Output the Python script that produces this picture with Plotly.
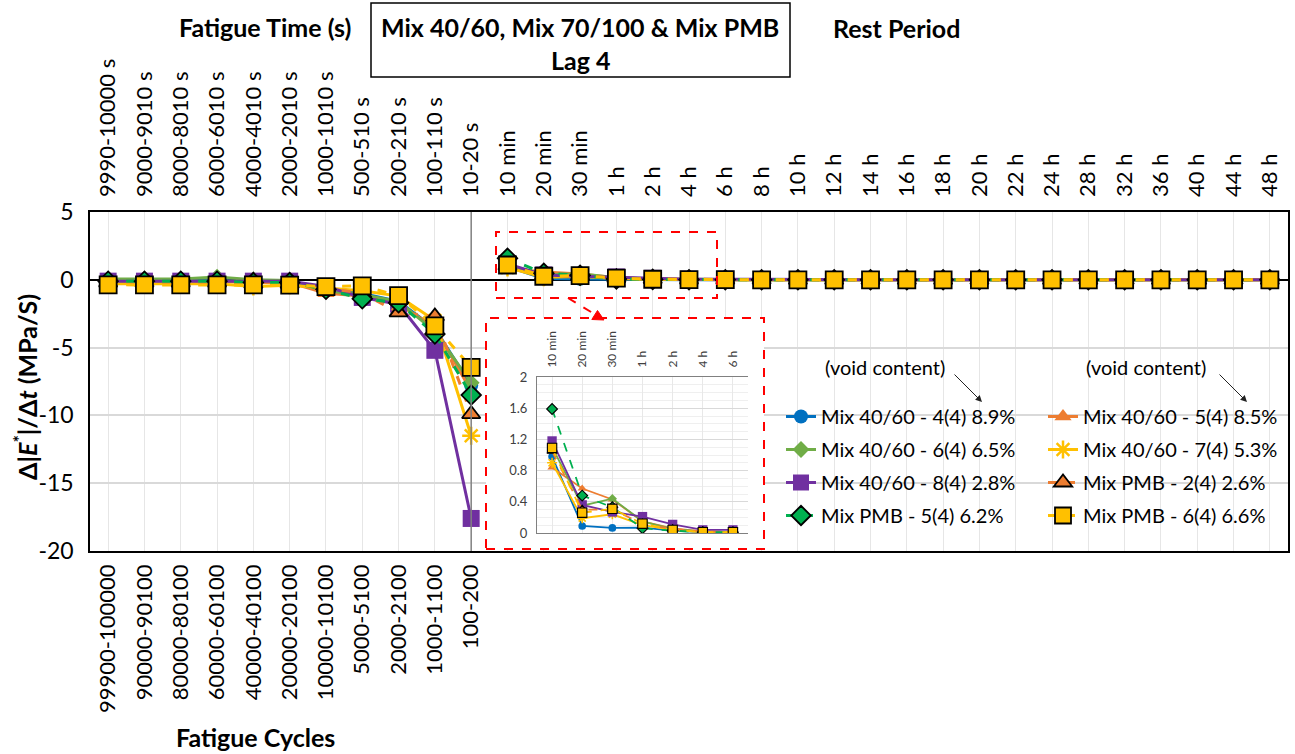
import plotly.graph_objects as go

# ---------------- data ----------------
fatigue_time = ["9990-10000 s", "9000-9010 s", "8000-8010 s", "6000-6010 s", "4000-4010 s",
                "2000-2010 s", "1000-1010 s", "500-510 s", "200-210 s", "100-110 s", "10-20 s"]
fatigue_cycles = ["99900-100000", "90000-90100", "80000-80100", "60000-60100", "40000-40100",
                  "20000-20100", "10000-10100", "5000-5100", "2000-2100", "1000-1100", "100-200"]
rest_period = ["10 min", "20 min", "30 min", "1 h", "2 h", "4 h", "6 h", "8 h", "10 h", "12 h",
               "14 h", "16 h", "18 h", "20 h", "22 h", "24 h", "28 h", "32 h", "36 h", "40 h",
               "44 h", "48 h"]
inset_labels = ["10 min", "20 min", "30 min", "1 h", "2 h", "4 h", "6 h"]

series_names = ["Mix 40/60 - 4(4) 8.9%", "Mix 40/60 - 5(4) 8.5%", "Mix 40/60 - 6(4) 6.5%",
                "Mix 40/60 - 7(4) 5.3%", "Mix 40/60 - 8(4) 2.8%", "Mix PMB - 2(4) 2.6%",
                "Mix PMB - 5(4) 6.2%", "Mix PMB - 6(4) 6.6%"]

# fatigue part (11 points)
fat_m4 = [-0.10, -0.10, -0.10, -0.05, -0.15, -0.10, -0.60, -1.00, -1.60, -3.60, -7.80]
fat_m5 = [-0.10, -0.10, -0.10, -0.10, -0.20, -0.20, -1.00, -1.20, -1.80, -3.50, -8.20]
fat_m6 = [0.05, 0.05, 0.05, 0.20, 0.00, -0.05, -0.80, -1.10, -1.60, -3.80, -7.60]
fat_m7 = [-0.30, -0.30, -0.30, -0.30, -0.50, -0.40, -0.60, -0.80, -1.20, -3.00, -11.50]
fat_m8 = [-0.10, -0.10, -0.10, -0.10, -0.10, -0.10, -0.50, -1.30, -1.80, -5.20, -17.60]
fat_p2 = [-0.20, -0.20, -0.20, -0.20, -0.30, -0.30, -0.60, -1.00, -2.40, -2.70, -9.90]
fat_p5 = [-0.10, -0.10, -0.10, -0.10, -0.20, -0.20, -0.70, -1.40, -1.70, -4.00, -8.50]
fat_p6 = [-0.37, -0.37, -0.37, -0.37, -0.37, -0.40, -0.50, -0.45, -1.17, -3.40, -6.46]

# rest part (22 points)
rest_m4 = [0.98, 0.09, 0.065, 0.07, 0.03, 0.01, 0.01, 0.01, 0.00, 0.00, 0.00, 0.00, 0.00,
           0.00, 0.00, 0.00, 0.00, 0.00, 0.00, 0.00, 0.00, 0.00]
rest_m5 = [0.84, 0.57, 0.43, 0.15, 0.06, 0.02, 0.01, 0.01, 0.01, 0.00, 0.00, 0.00, 0.00,
           0.00, 0.00, 0.00, 0.00, 0.00, 0.00, 0.00, 0.00, 0.00]
rest_m6 = [1.10, 0.35, 0.44, 0.15, 0.05, 0.02, 0.01, 0.01, 0.00, 0.00, 0.00, 0.00, 0.00,
           0.00, 0.00, 0.00, 0.00, 0.00, 0.00, 0.00, 0.00, 0.00]
rest_m7 = [0.90, 0.19, 0.24, 0.10, 0.04, 0.01, 0.01, 0.00, 0.00, 0.00, 0.00, 0.00, 0.00,
           0.00, 0.00, 0.00, 0.00, 0.00, 0.00, 0.00, 0.00, 0.00]
rest_m8 = [1.18, 0.36, 0.27, 0.21, 0.11, 0.04, 0.04, 0.02, 0.01, 0.01, 0.01, 0.01, 0.00,
           0.00, 0.00, 0.00, 0.00, 0.00, 0.00, 0.00, 0.00, 0.00]
rest_p2 = [1.05, 0.30, 0.30, 0.12, 0.05, 0.02, 0.01, 0.01, 0.00, 0.00, 0.00, 0.00, 0.00,
           0.00, 0.00, 0.00, 0.00, 0.00, 0.00, 0.00, 0.00, 0.00]
rest_p5 = [1.59, 0.48, 0.33, 0.06, 0.03, 0.01, 0.01, 0.00, 0.00, 0.00, 0.00, 0.00, 0.00,
           0.00, 0.00, 0.00, 0.00, 0.00, 0.00, 0.00, 0.00, 0.00]
rest_p6 = [1.09, 0.26, 0.31, 0.12, 0.04, 0.01, 0.01, 0.00, 0.00, 0.00, 0.00, 0.00, 0.00,
           0.00, 0.00, 0.00, 0.00, 0.00, 0.00, 0.00, 0.00, 0.00]

y_ticks = [-20, -15, -10, -5, 0, 5]
inset_y_ticks = [0, 0.4, 0.8, 1.2, 1.6, 2]

# ---------------- styling ----------------
FONT = "Lato"
BLUE, ORANGE, LGREEN, YELLOW, PURPLE, DGREEN = "#0070C0", "#ED7D31", "#70AD47", "#FFC000", "#7030A0", "#00B050"

styles = [
    dict(color=BLUE, symbol="circle", size=14, dash="solid", outline=None),
    dict(color=ORANGE, symbol="triangle-up", size=15, dash="solid", outline=None),
    dict(color=LGREEN, symbol="diamond", size=13, dash="solid", outline=None),
    dict(color=YELLOW, symbol="asterisk-open", size=15, dash="solid", outline=None),
    dict(color=PURPLE, symbol="square", size=17, dash="solid", outline=None),
    dict(color=ORANGE, symbol="triangle-up", size=16, dash="dash", outline="black"),
    dict(color=DGREEN, symbol="diamond", size=15, dash="dash", outline="black"),
    dict(color=YELLOW, symbol="square", size=17, dash="dash", outline="black"),
]
fat_data = [fat_m4, fat_m5, fat_m6, fat_m7, fat_m8, fat_p2, fat_p5, fat_p6]
rest_data = [rest_m4, rest_m5, rest_m6, rest_m7, rest_m8, rest_p2, rest_p5, rest_p6]
legend_ids = ["legend", "legend2", "legend", "legend2", "legend", "legend2", "legend", "legend2"]

# pixel helpers for layout (plot area: x 90..1288, y 212..551)
PX0, PX1, PY0, PY1 = 90, 1288, 212, 551
def px(x):
    return (x - PX0) / (PX1 - PX0)
def py(y):
    return (PY1 - y) / (PY1 - PY0)

n_fat = len(fatigue_time)
n_all = n_fat + len(rest_period)
fat_pos = list(range(n_fat))
rest_pos = list(range(n_fat, n_all))

fig = go.Figure()

# cover subplot (white background behind inset) - x3/y3
fig.add_trace(go.Scatter(x=[0], y=[0], xaxis="x3", yaxis="y3", mode="markers",
                         marker=dict(opacity=0), showlegend=False, hoverinfo="skip"))
# top axis dummy
fig.add_trace(go.Scatter(x=[0], y=[0], xaxis="x2", yaxis="y", mode="markers",
                         marker=dict(opacity=0), showlegend=False, hoverinfo="skip"))

def marker_dict(st, scale=1.0):
    size = st["size"] * scale
    if st["symbol"].startswith("asterisk"):
        return dict(symbol=st["symbol"], size=size, color=st["color"],
                    line=dict(color=st["color"], width=2 * scale + 0.5))
    if st["outline"]:
        return dict(symbol=st["symbol"], size=size, color=st["color"],
                    line=dict(color=st["outline"], width=1.5 * scale + 0.3))
    return dict(symbol=st["symbol"], size=size, color=st["color"], line=dict(width=0))

for i in range(8):
    st = styles[i]
    xs = fat_pos + [None] + rest_pos
    ys = fat_data[i] + [None] + rest_data[i]
    fig.add_trace(go.Scatter(
        x=xs, y=ys, mode="lines+markers", name=series_names[i],
        line=dict(color=st["color"], width=3, dash=st["dash"]),
        marker=marker_dict(st), legend=legend_ids[i], legendgroup="g%d" % i,
        connectgaps=False,
    ))

# inset traces - x4/y4
for i in range(8):
    st = styles[i]
    fig.add_trace(go.Scatter(
        x=list(range(len(inset_labels))), y=rest_data[i][:len(inset_labels)],
        xaxis="x4", yaxis="y4", mode="lines+markers", showlegend=False,
        line=dict(color=st["color"], width=1.8, dash=st["dash"]),
        marker=marker_dict(st, 0.55),
    ))

tick_font = dict(family=FONT, size=22, color="black")

fig.update_layout(
    width=1295, height=754,
    margin=dict(l=PX0, r=1295 - PX1, t=PY0, b=754 - PY1, autoexpand=False),
    paper_bgcolor="white", plot_bgcolor="white",
    font=dict(family=FONT, color="black"),
    xaxis=dict(range=[-0.5, n_all - 0.5], tickmode="array", tickvals=list(range(n_all)),
               ticktext=fatigue_cycles + [""] * len(rest_period), tickangle=-90,
               tickfont=tick_font, showgrid=True, gridcolor="#e6e6e6", gridwidth=1,
               showline=True, linecolor="black", linewidth=1.5, mirror=True,
               zeroline=False, ticks="", automargin=False, ticklabelstandoff=3),
    xaxis2=dict(overlaying="x", side="top", anchor="y", range=[-0.5, n_all - 0.5],
                tickmode="array", tickvals=list(range(n_all)),
                ticktext=fatigue_time + rest_period, tickangle=-90, tickfont=tick_font,
                showgrid=False, zeroline=False, ticks="", showline=False,
                automargin=False, ticklabelstandoff=14),
    yaxis=dict(range=[-20, 5], tickmode="array", tickvals=y_ticks,
               ticktext=[str(v) for v in y_ticks], tickfont=dict(family=FONT, size=23, color="black"),
               showgrid=True, gridcolor="#d9d9d9", gridwidth=1.5,
               zeroline=True, zerolinecolor="black", zerolinewidth=1.5,
               showline=True, linecolor="black", linewidth=1.5, mirror=True, ticks="",
               automargin=False, ticklabelstandoff=10),
    xaxis3=dict(domain=[px(486), px(764)], anchor="y3", range=[0, 1], visible=False,
                automargin=False),
    yaxis3=dict(domain=[py(549), py(318)], anchor="x3", range=[0, 1], visible=False,
                automargin=False),
    xaxis4=dict(domain=[px(537), px(748)], anchor="y4", side="top",
                range=[-0.5, len(inset_labels) - 0.5], tickmode="array",
                tickvals=list(range(len(inset_labels))), ticktext=inset_labels,
                tickangle=-90, tickfont=dict(family=FONT, size=12, color="#404040"),
                showgrid=True, gridcolor="#e8e8e8", showline=True, linecolor="#808080",
                linewidth=1, mirror=True, zeroline=False, ticks="", automargin=False,
                ticklabelstandoff=6),
    yaxis4=dict(domain=[py(533), py(377)], anchor="x4", range=[0, 2], tickmode="array",
                tickvals=inset_y_ticks, ticktext=["0", "0.4", "0.8", "1.2", "1.6", "2"],
                tickfont=dict(family=FONT, size=13, color="#404040"),
                showgrid=True, gridcolor="#d9d9d9",
                minor=dict(dtick=0.1, showgrid=True, gridcolor="#efefef"),
                showline=True, linecolor="#808080", linewidth=1, zeroline=False, ticks="",
                automargin=False, ticklabelstandoff=6),
    legend=dict(x=px(781), y=py(397), xanchor="left", yanchor="top", orientation="v",
                bgcolor="rgba(0,0,0,0)", font=dict(family=FONT, size=20, color="black"),
                tracegroupgap=4, itemwidth=30),
    legend2=dict(x=px(1043), y=py(397), xanchor="left", yanchor="top", orientation="v",
                 bgcolor="rgba(0,0,0,0)", font=dict(family=FONT, size=20, color="black"),
                 tracegroupgap=4, itemwidth=30),
    showlegend=True,
)

shapes = [
    # divider between fatigue and rest
    dict(type="line", xref="x", yref="paper", x0=n_fat - 1, x1=n_fat - 1, y0=0, y1=1,
         line=dict(color="#808080", width=1.5), layer="above"),
    # title box
    dict(type="rect", xref="paper", yref="paper", x0=px(371), x1=px(790), y0=py(77), y1=py(3),
         line=dict(color="black", width=1.5)),
    # red dashed boxes
    dict(type="rect", xref="paper", yref="paper", x0=px(496), x1=px(717), y0=py(298), y1=py(232),
         line=dict(color="#ff0000", width=2, dash="dash"), layer="above"),
    dict(type="rect", xref="paper", yref="paper", x0=px(486), x1=px(764), y0=py(549), y1=py(318),
         line=dict(color="#ff0000", width=2, dash="dash"), layer="above"),
    # red dashed arrow
    dict(type="line", xref="paper", yref="paper", x0=px(568), y0=py(298), x1=px(596), y1=py(315),
         line=dict(color="#ff0000", width=2, dash="dash"), layer="above"),
    dict(type="path", xref="paper", yref="paper",
         path="M %f,%f L %f,%f L %f,%f Z" % (px(604), py(320), px(591.8), py(319.5), px(597.5), py(310.5)),
         fillcolor="#ff0000", line=dict(color="#ff0000", width=1), layer="above"),
]
fig.update_layout(shapes=shapes)

ann = [
    dict(text="<b>Fatigue Time (s)</b>", x=px(265), y=py(27), font=dict(size=25)),
    dict(text="<b>Mix 40/60, Mix 70/100 &amp; Mix PMB</b>", x=px(580), y=py(27), font=dict(size=25)),
    dict(text="<b>Lag 4</b>", x=px(580), y=py(60), font=dict(size=25)),
    dict(text="<b>Rest Period</b>", x=px(896), y=py(28), font=dict(size=25)),
    dict(text="<b>Fatigue Cycles</b>", x=px(255), y=py(737), font=dict(size=25)),
    dict(text="<b>Δ|<i>E</i><sup>*</sup>|/Δ<i>t</i> (MPa/S)</b>", x=px(25), y=py(387),
         textangle=-90, font=dict(size=25)),
    dict(text="(void content)", x=px(885), y=py(367), font=dict(size=20)),
    dict(text="(void content)", x=px(1146), y=py(367), font=dict(size=20)),
]
for a in ann:
    a.update(xref="paper", yref="paper", showarrow=False, xanchor="center", yanchor="middle")
    a["font"] = dict(family=FONT, color="black", **a["font"])
arrows = [
    dict(x=px(982), y=py(402), ax=-29, ay=-29),
    dict(x=px(1247), y=py(402), ax=-29, ay=-29),
]
for a in arrows:
    a.update(xref="paper", yref="paper", text="", showarrow=True, arrowhead=2, arrowsize=1.3,
             arrowwidth=1, arrowcolor="#222222")
fig.update_layout(annotations=ann + arrows)

fig.write_html("out.html", config={"displayModeBar": False},
               post_script="document.body.style.margin='0';document.body.style.padding='0';")
